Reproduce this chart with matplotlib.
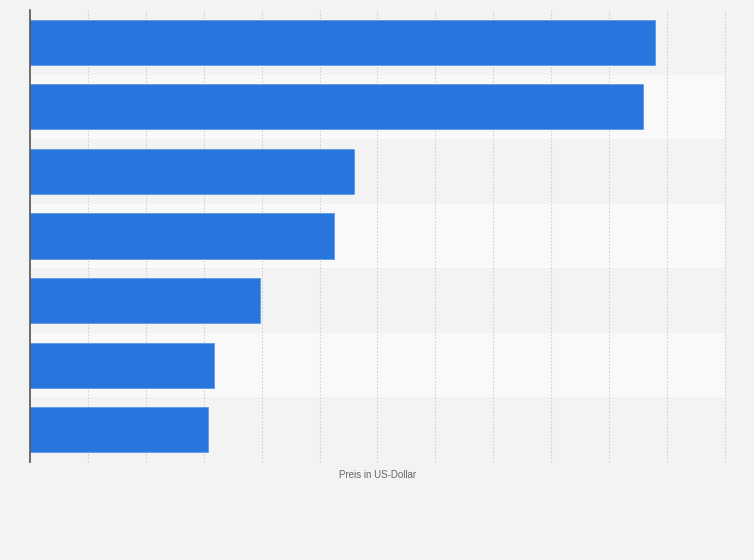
import numpy as np
import matplotlib.pyplot as plt

# Werte (Preis in US-Dollar), von oben nach unten
labels = ["A", "B", "C", "D", "E", "F", "G"]
prices = [1080, 1059, 559, 525, 397, 318, 307]
x_ticks = np.arange(0, 1201, 100)

bg = "#f3f3f3"
fig = plt.figure(figsize=(7.54, 5.6), dpi=100, facecolor=bg)
ax = fig.add_axes([30 / 754, 98 / 560, 695 / 754, 452 / 560])
ax.set_facecolor(bg)

y = np.arange(len(prices))
# alternating row bands
for i in y:
    if i % 2 == 1:
        ax.axhspan(i - 0.5, i + 0.5, color="#f9f9f9", zorder=0, lw=0)

ax.barh(y, prices, height=0.7, color="#2876dd", edgecolor="#5a9ae8",
        linewidth=0.6, zorder=3)

ax.set_ylim(len(prices) - 0.5, -0.5)
ax.set_xlim(0, 1200)
ax.set_xticks(x_ticks)
ax.set_xticklabels([])
ax.set_yticks([])
ax.tick_params(length=0)
ax.grid(axis="x", color="#d2d2d2", linestyle=(0, (1.5, 1.5)), linewidth=0.8, zorder=1)
for gl in ax.get_xgridlines():
    gl.set_clip_on(False)

for s in ["top", "right", "bottom"]:
    ax.spines[s].set_visible(False)
ax.spines["left"].set_color("#555555")
ax.spines["left"].set_linewidth(1.2)
ax.spines["left"].set_zorder(4)

ax.set_xlabel("Preis in US-Dollar", fontsize=7, color="#666666",
              family="Liberation Sans", labelpad=2)

fig.savefig("out.png", dpi=100, facecolor=bg)
